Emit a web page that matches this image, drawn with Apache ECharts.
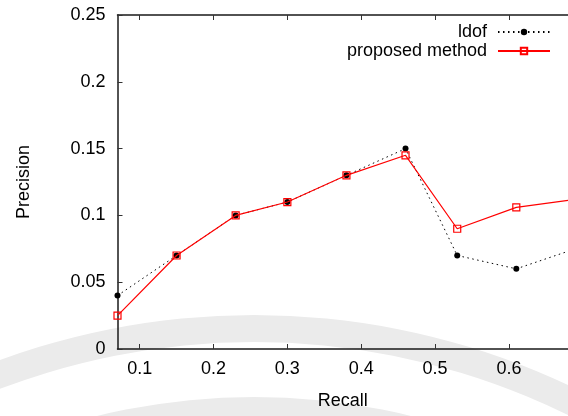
<!DOCTYPE html>
<html>
<head>
<meta charset="utf-8">
<script src="https://cdn.jsdelivr.net/npm/echarts@6/dist/echarts.min.js"></script>
<style>
  html, body { margin: 0; padding: 0; background: #fff; }
  #chart { width: 568px; height: 416px; }
</style>
</head>
<body>
<div id="chart"></div>
<script>
// Recall values at which both methods were evaluated
var recall = [0.07, 0.15, 0.23, 0.30, 0.38, 0.46, 0.53, 0.61, 0.69];
// Precision of the LDOF baseline
var ldofPrecision = [0.04, 0.07, 0.10, 0.11, 0.13, 0.15, 0.07, 0.06, 0.075];
// Precision of the proposed method
var proposedPrecision = [0.025, 0.07, 0.10, 0.11, 0.13, 0.145, 0.09, 0.106, 0.112];
// Tick positions
var recallTicks = [0.1, 0.2, 0.3, 0.4, 0.5, 0.6];

function pairs(xs, ys) {
  return xs.map(function (x, i) { return [x, ys[i]]; });
}

var FONT = 'Liberation Sans, Arial, Helvetica, sans-serif';
var AXIS_COLOR = '#1a1a1a';

var chart = echarts.init(document.getElementById('chart'), null, { renderer: 'canvas' });

var option = {
  animation: false,
  backgroundColor: '#ffffff',
  textStyle: { fontFamily: FONT, color: '#000' },
  // faint seal arcs printed behind the plot
  graphic: [{
    type: 'ring', silent: true, z: -10,
    shape: { cx: 254, cy: 1054, r: 739, r0: 712 },
    style: { fill: '#ebebeb' }
  }, {
    type: 'ring', silent: true, z: -10,
    shape: { cx: 254, cy: 1054, r: 657, r0: 634 },
    style: { fill: '#ebebeb' }
  }],
  grid: { left: 117.5, top: 15, right: 0, bottom: 67, containLabel: false },
  legend: {
    right: 12,
    top: 18,
    orient: 'vertical',
    align: 'right',
    itemWidth: 52,
    itemHeight: 8,
    itemGap: 1,
    textStyle: { fontFamily: FONT, fontSize: 18, color: '#000', lineHeight: 18, padding: [0, 6, 0, 0] },
    data: ['ldof', 'proposed method']
  },
  xAxis: [{
    type: 'value',
    min: 0.07,
    max: 0.68,
    name: 'Recall',
    nameLocation: 'middle',
    nameGap: 43,
    nameTextStyle: { fontFamily: FONT, fontSize: 18, color: '#000' },
    axisLine: { show: true, lineStyle: { color: AXIS_COLOR, width: 1.5 } },
    axisTick: { show: true, inside: true, length: 5, customValues: recallTicks, lineStyle: { color: '#333', width: 1 } },
    axisLabel: { customValues: recallTicks, margin: 11, fontFamily: FONT, fontSize: 18, color: '#000' },
    splitLine: { show: false }
  }, {
    type: 'value',
    position: 'top',
    min: 0.07,
    max: 0.68,
    axisLine: { show: true, onZero: false, lineStyle: { color: AXIS_COLOR, width: 1.5 } },
    axisTick: { show: true, inside: true, length: 5, customValues: recallTicks, lineStyle: { color: '#333', width: 1 } },
    axisLabel: { show: false },
    splitLine: { show: false }
  }],
  yAxis: {
    type: 'value',
    min: 0,
    max: 0.25,
    interval: 0.05,
    name: 'Precision',
    nameLocation: 'middle',
    nameGap: 84,
    nameRotate: 90,
    nameTextStyle: { fontFamily: FONT, fontSize: 18, color: '#000' },
    axisLine: { show: true, lineStyle: { color: AXIS_COLOR, width: 1.5 } },
    axisTick: { show: true, inside: true, length: 5, lineStyle: { color: '#333', width: 1 } },
    axisLabel: {
      margin: 12, fontFamily: FONT, fontSize: 18, color: '#000',
      formatter: function (v) { return String(Math.round(v * 100) / 100); }
    },
    splitLine: { show: false }
  },
  series: [{
    name: 'ldof',
    type: 'line',
    data: pairs(recall, ldofPrecision),
    clip: false,
    symbol: 'circle',
    symbolSize: 6,
    itemStyle: { color: '#000' },
    lineStyle: { color: '#000', width: 1, type: [1.5, 3.5] },
    z: 2
  }, {
    name: 'proposed method',
    type: 'line',
    data: pairs(recall, proposedPrecision),
    clip: false,
    symbol: 'rect',
    symbolSize: 7,
    itemStyle: { color: 'rgba(255,255,255,0)', borderColor: '#ff0000', borderWidth: 1.2 },
    lineStyle: { color: '#ff0000', width: 1.2 },
    z: 3
  }]
};

chart.setOption(option);
</script>
</body>
</html>
